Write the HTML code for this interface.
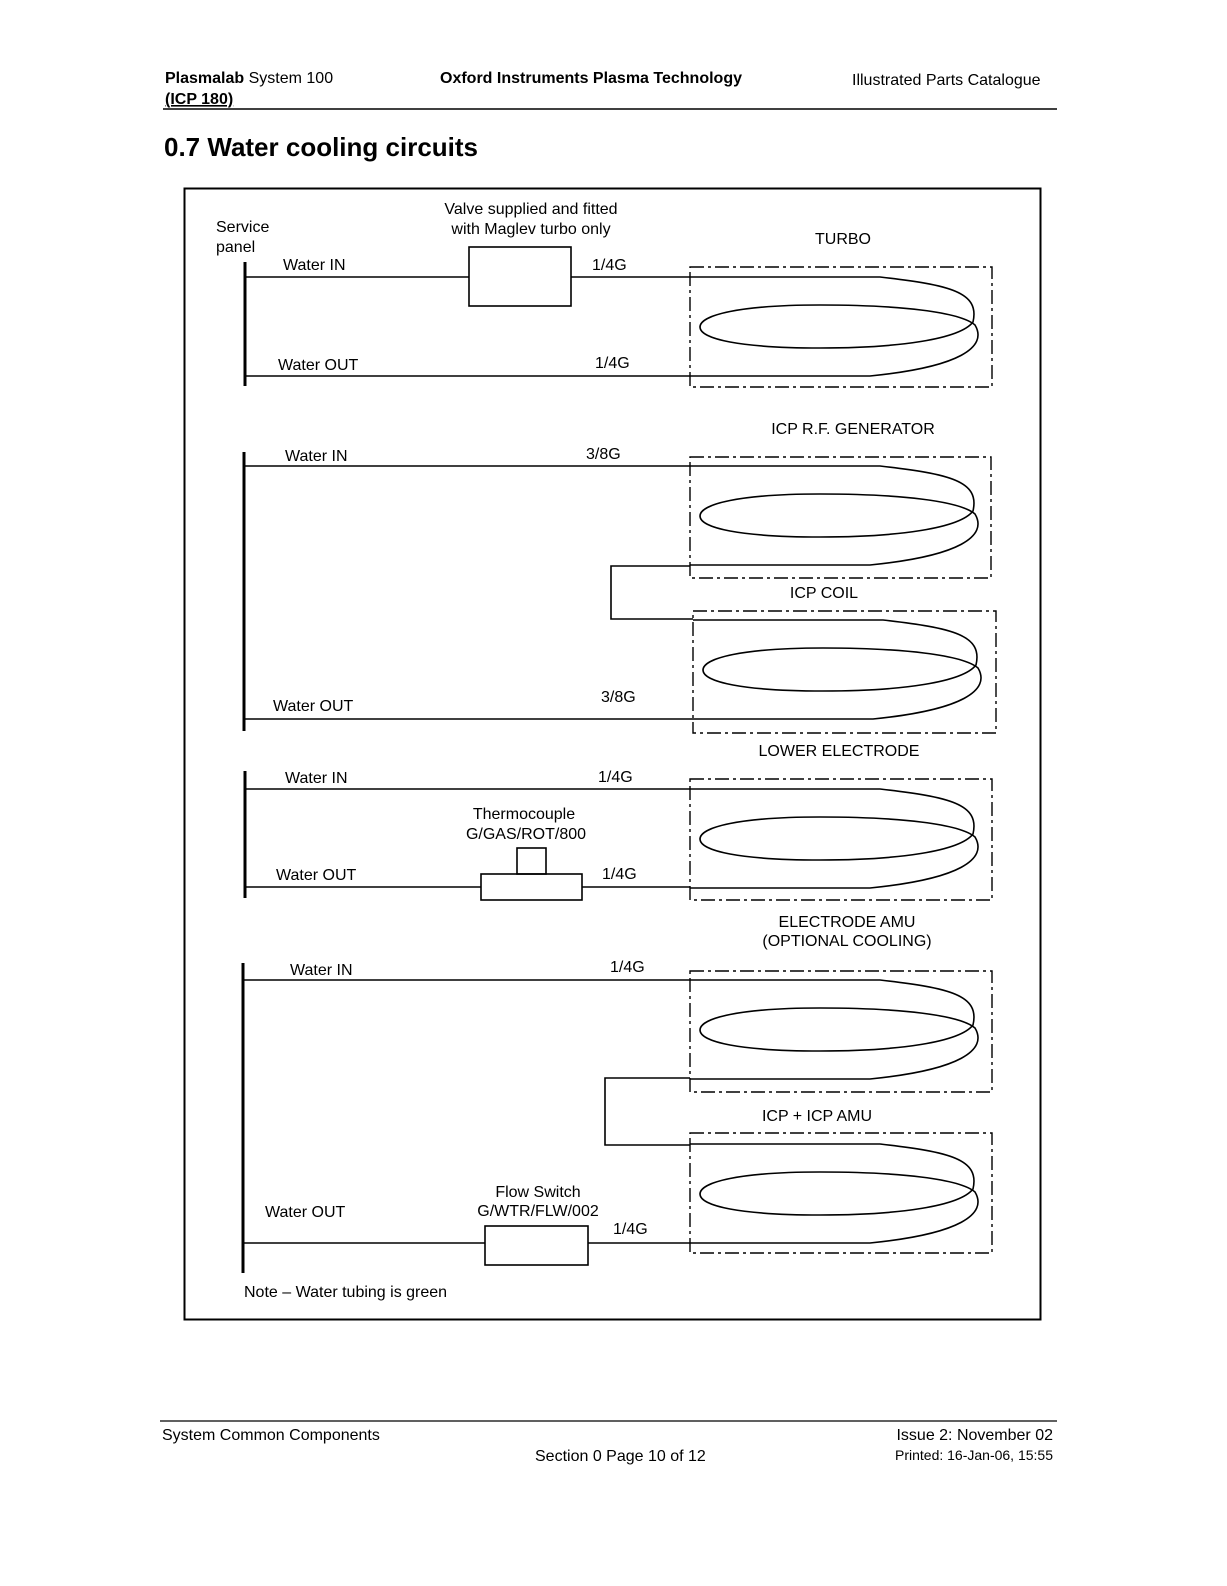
<!DOCTYPE html>
<html><head><meta charset="utf-8"><style>
html,body{margin:0;padding:0;background:#fff;overflow:hidden;width:1227px;height:1586px;}
svg{display:block;}
svg text{font-family:"Liberation Sans",sans-serif;fill:#000;}
</style></head><body>
<svg width="1227" height="1586" viewBox="0 0 1227 1586" xmlns="http://www.w3.org/2000/svg">
<defs>
<path id="coil" d="M0,0 L190,0 C260,8 290,15 283,45 C270,62 210,71 130,71 C50,71 10,62 10,50 C10,38 50,28 130,28 C210,28 270,35 285,48 C298,70 270,90 180,99 L0,99" fill="none" stroke="#000" stroke-width="1.6"/>
</defs>
<text x="165" y="83" font-size="16"><tspan font-weight="bold">Plasmalab</tspan> System 100</text>
<text x="165" y="104" font-size="16" font-weight="bold" text-decoration="underline">(ICP 180)</text>
<text x="440" y="83" font-size="16" font-weight="bold">Oxford Instruments Plasma Technology</text>
<text x="852" y="85" font-size="16">Illustrated Parts Catalogue</text>
<line x1="163" y1="109" x2="1057" y2="109" stroke="#000" stroke-width="1.5"/>
<text x="164" y="156" font-size="26" font-weight="bold">0.7   Water cooling circuits</text>
<rect x="184.5" y="188.5" width="856" height="1131" fill="none" stroke="#000" stroke-width="2"/>
<g stroke="#000" fill="none" stroke-width="1.6">
<line x1="245" y1="262" x2="245" y2="386" stroke-width="3"/>
<line x1="245" y1="277" x2="469" y2="277"/>
<rect x="469" y="247" width="102" height="59"/>
<line x1="571" y1="277" x2="690" y2="277"/>
<line x1="245" y1="376" x2="690" y2="376"/>
<line x1="244" y1="452" x2="244" y2="731" stroke-width="3"/>
<line x1="244" y1="466" x2="690" y2="466"/>
<polyline points="690,566 611,566 611,619 693,619"/>
<line x1="244" y1="719" x2="693" y2="719"/>
<line x1="245" y1="771" x2="245" y2="898" stroke-width="3"/>
<line x1="245" y1="789" x2="690" y2="789"/>
<line x1="245" y1="887" x2="481" y2="887"/>
<rect x="481" y="874" width="101" height="26"/>
<rect x="517" y="848" width="29" height="26"/>
<line x1="582" y1="887" x2="690" y2="887"/>
<line x1="243" y1="963" x2="243" y2="1273" stroke-width="3"/>
<line x1="243" y1="980" x2="690" y2="980"/>
<polyline points="690,1078 605,1078 605,1145 690,1145"/>
<line x1="243" y1="1243" x2="485" y2="1243"/>
<rect x="485" y="1226" width="103" height="39"/>
<line x1="588" y1="1243" x2="690" y2="1243"/>
</g>
<g stroke="#000" fill="none" stroke-width="1.4" stroke-dasharray="14 4 3 4">
<rect x="690" y="267" width="302" height="120"/>
<rect x="690" y="457" width="301" height="121"/>
<rect x="693" y="611" width="303" height="122"/>
<rect x="690" y="779" width="302" height="121"/>
<rect x="690" y="971" width="302" height="121"/>
<rect x="690" y="1133" width="302" height="120"/>
</g>
<use href="#coil" x="690" y="277"/>
<use href="#coil" x="690" y="466"/>
<use href="#coil" x="693" y="620"/>
<use href="#coil" x="690" y="789"/>
<use href="#coil" x="690" y="980"/>
<use href="#coil" x="690" y="1144"/>
<g font-size="16">
<text x="216" y="232">Service</text>
<text x="216" y="252">panel</text>
<text x="531" y="214" text-anchor="middle">Valve supplied and fitted</text>
<text x="531" y="234" text-anchor="middle">with Maglev turbo only</text>
<text x="843" y="244" text-anchor="middle">TURBO</text>
<text x="283" y="270">Water IN</text>
<text x="592" y="270">1/4G</text>
<text x="278" y="370">Water OUT</text>
<text x="595" y="368">1/4G</text>
<text x="853" y="434" text-anchor="middle">ICP R.F. GENERATOR</text>
<text x="285" y="461">Water IN</text>
<text x="586" y="459">3/8G</text>
<text x="824" y="598" text-anchor="middle">ICP COIL</text>
<text x="273" y="711">Water OUT</text>
<text x="601" y="702">3/8G</text>
<text x="839" y="756" text-anchor="middle">LOWER ELECTRODE</text>
<text x="285" y="783">Water IN</text>
<text x="598" y="782">1/4G</text>
<text x="524" y="819" text-anchor="middle">Thermocouple</text>
<text x="526" y="839" text-anchor="middle">G/GAS/ROT/800</text>
<text x="276" y="880">Water OUT</text>
<text x="602" y="879">1/4G</text>
<text x="847" y="927" text-anchor="middle">ELECTRODE AMU</text>
<text x="847" y="946" text-anchor="middle">(OPTIONAL COOLING)</text>
<text x="290" y="975">Water IN</text>
<text x="610" y="972">1/4G</text>
<text x="817" y="1121" text-anchor="middle">ICP + ICP AMU</text>
<text x="538" y="1197" text-anchor="middle">Flow Switch</text>
<text x="538" y="1216" text-anchor="middle">G/WTR/FLW/002</text>
<text x="265" y="1217">Water OUT</text>
<text x="613" y="1234">1/4G</text>
<text x="244" y="1297">Note – Water tubing is green</text>
</g>
<line x1="160" y1="1421" x2="1057" y2="1421" stroke="#000" stroke-width="1.2"/>
<g font-size="16">
<text x="162" y="1440">System Common Components</text>
<text x="535" y="1461">Section 0 Page 10 of 12</text>
<text x="1053" y="1440" text-anchor="end">Issue 2: November 02</text>
<text x="1053" y="1460" text-anchor="end" font-size="14">Printed:  16-Jan-06, 15:55</text>
</g>
</svg>
</body></html>
